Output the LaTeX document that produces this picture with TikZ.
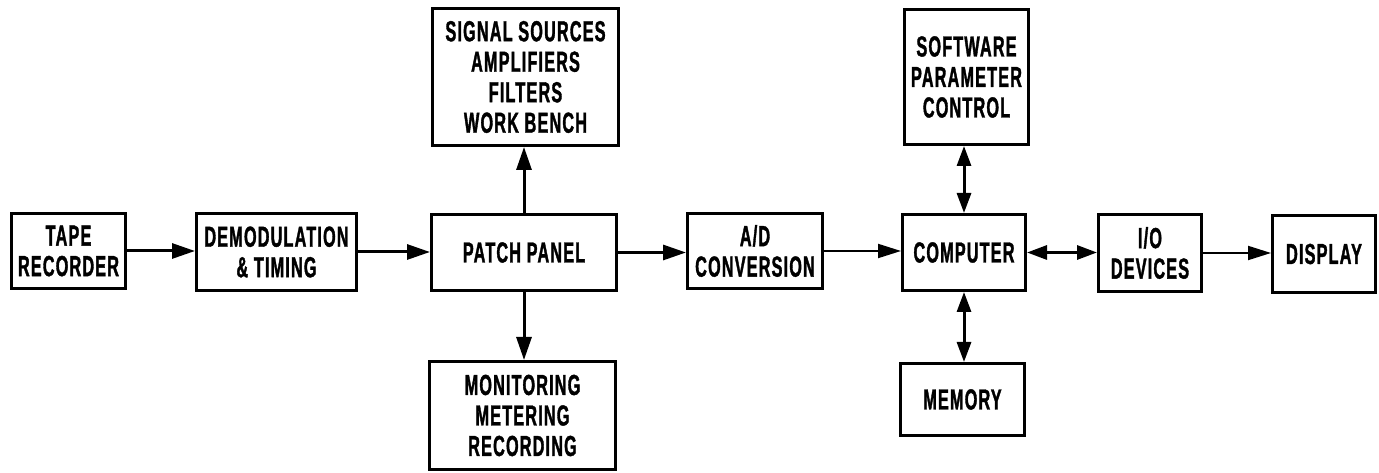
\documentclass[tikz,border=0pt]{standalone}
\usepackage{fontspec}
\usetikzlibrary{arrows.meta}
\newfontfamily\blockfont{Liberation Sans Bold}[FakeStretch=0.56, LetterSpace=4, FakeBold=1.2]
\begin{document}
\begin{tikzpicture}[x=1pt,y=1pt,
  blk/.style={draw, line width=3pt, rectangle, inner sep=0pt, align=center,
    font=\blockfont\fontsize{29}{30.5}\selectfont},
  arr/.style={line width=3pt, -{Triangle[length=23pt,width=15pt]}},
  thinarr/.style={line width=2pt, -{Triangle[length=23pt,width=14pt]}},
  dblarr/.style={line width=3pt, {Triangle[length=20pt,width=14pt]}-{Triangle[length=20pt,width=14pt]}}]
\useasboundingbox (0,0) rectangle (1379,473);
\fill[white] (0,0) rectangle (1379,473);

% blocks (y measured upward from the bottom edge)
\node[blk, minimum width=114, minimum height=75] (tape)    at (68.5,222) {TAPE\\RECORDER};
\node[blk, minimum width=160, minimum height=77] (demod)   at (276.5,221) {DEMODULATION\\\& TIMING};
\node[blk, minimum width=185, minimum height=76] (patch)   at (524,220.5) {PATCH PANEL};
\node[blk, minimum width=186, minimum height=137] (signal) at (525.5,396) {SIGNAL SOURCES\\AMPLIFIERS\\FILTERS\\WORK BENCH};
\node[blk, minimum width=186, minimum height=108] (monitor) at (522.5,57.5) {MONITORING\\METERING\\RECORDING};
\node[blk, minimum width=135, minimum height=75] (ad)      at (755,222) {A/D\\CONVERSION};
\node[blk, minimum width=123, minimum height=76] (comp)    at (964,220.5) {COMPUTER};
\node[blk, minimum width=124, minimum height=135] (soft)   at (966.5,396) {SOFTWARE\\PARAMETER\\CONTROL};
\node[blk, minimum width=124, minimum height=72] (mem)     at (962.5,73.5) {MEMORY};
\node[blk, minimum width=103, minimum height=77] (io)      at (1150,220) {I/O\\DEVICES};
\node[blk, minimum width=103, minimum height=77] (disp)    at (1324,219) {DISPLAY};

% signal flow
\draw[arr] (tape.east) -- (demod.west |- tape.east);
\draw[arr] (demod.east) -- (patch.west |- demod.east);
\draw[arr] (patch.east) -- (ad.west |- patch.east);
\draw[thinarr] (ad.east) -- (comp.west |- ad.east);
\draw[dblarr] (comp.east) -- (io.west |- comp.east);
\draw[thinarr] (io.east) -- (disp.west |- io.east);
\draw[arr] (patch.north) -- (patch.north |- signal.south);
\draw[arr] (patch.south) -- (patch.south |- monitor.north);
\draw[dblarr] (comp.north) -- (comp.north |- soft.south);
\draw[dblarr] (comp.south) -- (comp.south |- mem.north);
\end{tikzpicture}
\end{document}
